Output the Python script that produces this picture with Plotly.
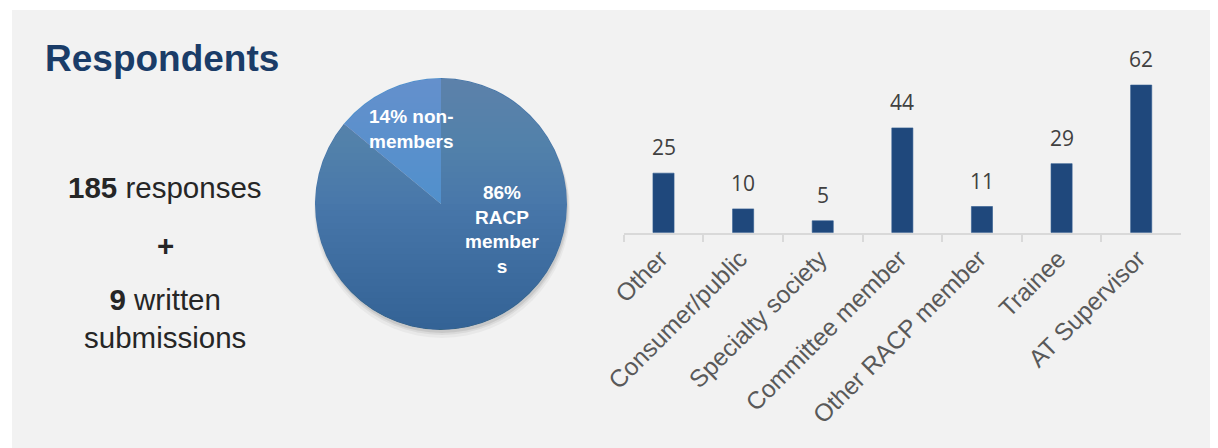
import math
import plotly.graph_objects as go

# ---- data ----
categories = ["Other", "Consumer/public", "Specialty society", "Committee member",
              "Other RACP member", "Trainee", "AT Supervisor"]
counts = [25, 10, 5, 44, 11, 29, 62]

pie_labels = ["RACP members", "non-members"]
pie_values = [86, 14]
pie_text = ["86%<br>RACP<br>member<br>s", "14% non-<br>members"]

responses = 185
written = 9
title = "Respondents"

W, H = 1218, 448
OFF = 8  # page body margin
def px(x):  # screenshot pixel x -> paper
    return (x - OFF) / W
def py(y):  # screenshot pixel y from top -> paper
    return (H - (y - OFF)) / H

# pie geometry (screenshot pixels)
cx, cy, r = 441, 204, 126

fig = go.Figure()

fig.add_trace(go.Pie(
    labels=pie_labels, values=pie_values, sort=False, direction="clockwise",
    rotation=0, textinfo="none", hoverinfo="label+percent",
    marker=dict(colors=["#4877aa", "#5090cc"], line=dict(width=0)),
    domain=dict(x=[px(cx - r), px(cx + r)], y=[py(cy + r), py(cy - r)]),
    showlegend=False,
))

fig.add_trace(go.Bar(
    x=categories, y=counts, marker=dict(color="#1f487c", line=dict(width=0.6, color="#2f5a8e")),
    showlegend=False, xaxis="x", yaxis="y",
))

annotations = []
for c, v in zip(categories, counts):
    annotations.append(dict(
        x=c, y=v, xref="x", yref="y", text=str(v), showarrow=False,
        yanchor="middle", yshift=26,
        font=dict(family="Open Sans", size=21, color="#404040"),
    ))

# title
annotations.append(dict(
    x=px(43), y=py(58), xref="paper", yref="paper", xanchor="left", yanchor="middle",
    text=f"<b>{title}</b>", showarrow=False,
    font=dict(family="Liberation Sans", size=37, color="#1a3c68"),
))
# left text block
tf = dict(family="Liberation Sans", size=29.5, color="#262626")
annotations.append(dict(
    x=px(165), y=py(187), xref="paper", yref="paper", xanchor="center", yanchor="middle",
    text=f"<b>{responses}</b> responses", showarrow=False, font=tf))
annotations.append(dict(
    x=px(165), y=py(245), xref="paper", yref="paper", xanchor="center", yanchor="middle",
    text="<b>+</b>", showarrow=False, font=tf))
annotations.append(dict(
    x=px(165), y=py(318), xref="paper", yref="paper", xanchor="center", yanchor="middle",
    text=f"<b>{written}</b> written<br>submissions", showarrow=False, font=tf))

# pie labels
pf = dict(family="Liberation Sans", size=19, color="white")
annotations.append(dict(
    x=px(502), y=py(229), xref="paper", yref="paper", xanchor="center", yanchor="middle",
    text=f"<b>{pie_text[0]}</b>", showarrow=False, font=pf))
annotations.append(dict(
    x=px(411), y=py(129), xref="paper", yref="paper", xanchor="center", yanchor="middle",
    text=f"<b>{pie_text[1]}</b>", showarrow=False, font=pf))

shapes = [dict(
    type="rect", xref="paper", yref="paper", x0=px(12), x1=1, y0=0, y1=py(10),
    fillcolor="#f2f2f2", line=dict(width=0), layer="below",
)]
# soft pie shadow (offset downward)
for dy, dr, a in [(6, 2, 0.04), (4, 1, 0.06), (3, 0, 0.08)]:
    shapes.append(dict(
        type="circle", xref="paper", yref="paper",
        x0=px(cx - r - dr + 1), x1=px(cx + r + dr + 1),
        y0=py(cy + r + dr + dy), y1=py(cy - r - dr + dy),
        fillcolor=f"rgba(0,0,0,{a})", line=dict(width=0), layer="below",
    ))

# vertical gradient on the pie: stacked translucent caps
def cap_path(y_cut, top=True, npts=48):
    if top:
        tc = math.acos(max(-1, min(1, (cy - y_cut) / r)))
    else:
        tc = math.acos(max(-1, min(1, (y_cut - cy) / r)))
    pts = []
    for i in range(npts + 1):
        t = -tc + 2 * tc * i / npts
        x = cx + (r - 0.3) * math.sin(t)
        y = (cy - (r - 0.3) * math.cos(t)) if top else (cy + (r - 0.3) * math.cos(t))
        pts.append((px(x), py(y)))
    return "M" + " L".join(f"{a:.6f},{b:.6f}" for a, b in pts) + " Z"

N = 20
a_top = 1 - (1 - 0.115) ** (1 / N)
a_bot = 1 - (1 - 0.22) ** (1 / N)
for k in range(1, N + 1):
    y_cut = (cy - r) + r * k / N
    shapes.append(dict(type="path", xref="paper", yref="paper", path=cap_path(y_cut, True),
                       fillcolor=f"rgba(255,255,255,{a_top:.5f})", line=dict(width=0), layer="above"))
    y_cut_b = (cy + r) - r * k / N
    shapes.append(dict(type="path", xref="paper", yref="paper", path=cap_path(y_cut_b, False),
                       fillcolor=f"rgba(10,60,110,{a_bot:.5f})", line=dict(width=0), layer="above"))

fig.update_layout(
    width=W, height=H,
    margin=dict(l=0, r=0, t=0, b=0),
    paper_bgcolor="white",
    plot_bgcolor="rgba(0,0,0,0)",
    bargap=0.735,
    xaxis=dict(
        domain=[px(623.7), px(1181)], type="category",
        showline=True, linecolor="#d9d9d9", linewidth=2,
        ticks="outside", tickson="boundaries", ticklen=7, tickcolor="#d9d9d9", tickwidth=1.5,
        tickangle=-45, tickfont=dict(family="Liberation Sans", size=24.5, color="#595959"),
        ticklabelshift=-3,
        showgrid=False, zeroline=False, automargin=False, fixedrange=True,
    ),
    yaxis=dict(
        domain=[py(232.7), py(66)], range=[0, 70], visible=False,
        showgrid=False, zeroline=False, fixedrange=True,
    ),
    shapes=shapes,
    annotations=annotations,
)

fig.write_html("out.html")
